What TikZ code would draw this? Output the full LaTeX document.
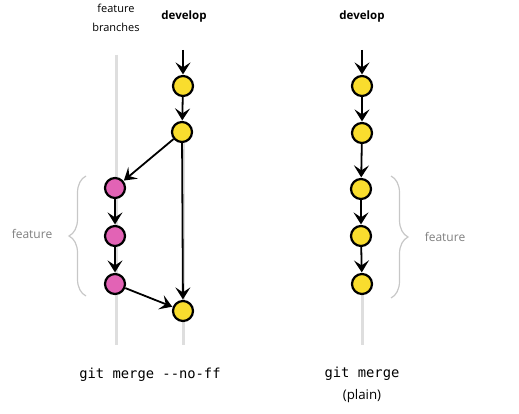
\documentclass[tikz,border=0pt]{standalone}
\usepackage{fontspec}
\setmainfont{Open Sans}
\setmonofont{DejaVu Sans Mono}
\usetikzlibrary{arrows.meta,decorations.pathreplacing}
\definecolor{devyellow}{HTML}{F9DD2E}
\definecolor{featpink}{HTML}{E263B5}

\begin{document}
\begin{tikzpicture}[x=1pt,y=-1pt,
  commit/.style={circle, draw=black, line width=2.2pt, minimum size=20pt, inner sep=0pt},
  dev/.style={commit, fill=devyellow},
  feat/.style={commit, fill=featpink},
  arr/.style={-{Stealth[length=12pt,width=15pt,inset=5pt]}, line width=1.8pt, shorten >=0.5pt},
  lane/.style={black!13, line width=3pt},
  curly/.style={black!22, line width=1.2pt, decorate, decoration={brace, amplitude=17pt}},
  lbl/.style={font=\fontsize{11}{19}\selectfont, align=center}]
\useasboundingbox (0,0) rectangle (519,414);

% lanes
\draw [lane] (116,55) -- (116,345);
\draw [lane] (183,140) -- (183,345);
\draw [lane] (362,290) -- (362,345);

% headers
\node [lbl] (fbtitle) at (116,18) {feature\\branches};
\node [lbl, font=\fontsize{11.5}{13}\selectfont\bfseries] (devleft) at (184,17) {develop};
\node [lbl, font=\fontsize{11.5}{13}\selectfont\bfseries] (devright) at (362,17) {develop};

% --no-ff side
\coordinate (ltop) at (183,50);
\node [dev] (l1) at (183,86) {};
\node [dev] (l2) at (182,132) {};
\node [feat] (f1) at (115,188) {};
\node [feat] (f2) at (115,236) {};
\node [feat] (f3) at (115,284) {};
\node [dev] (l3) at (183,311) {};
\draw [arr] (ltop) -- (l1);
\draw [arr] (l1) -- (l2);
\draw [arr] (l2) -- (f1);
\draw [arr] (f1) -- (f2);
\draw [arr] (f2) -- (f3);
\draw [arr] (l2) -- (l3);
\draw [arr] (f3) -- (l3);

% plain side
\coordinate (rtop) at (362,50);
\node [dev] (r1) at (362,86) {};
\node [dev] (r2) at (362,133) {};
\node [dev] (r3) at (361,189) {};
\node [dev] (r4) at (361,236) {};
\node [dev] (r5) at (362,284) {};
\draw [arr] (rtop) -- (r1);
\draw [arr] (r1) -- (r2);
\draw [arr] (r2) -- (r3);
\draw [arr] (r3) -- (r4);
\draw [arr] (r4) -- (r5);

% braces
\draw [curly] (86,296) -- (86,176);
\node [lbl, font=\fontsize{12}{14}\selectfont, text=black!50] (featleft) at (32,234) {feature};
\draw [curly] (391,176) -- (391,298);
\node [lbl, font=\fontsize{12}{14}\selectfont, text=black!50] (featright) at (445,237) {feature};

% captions
\node [font=\fontsize{13.8}{15}\selectfont\ttfamily] (capleft) at (150,375) {git merge -{}-no-ff};
\node [font=\fontsize{13.8}{15}\selectfont\ttfamily] (capright) at (362,374) {git merge};
\node [font=\fontsize{13.3}{15}\selectfont] (plain) at (362,396) {(plain)};
\end{tikzpicture}
\end{document}
